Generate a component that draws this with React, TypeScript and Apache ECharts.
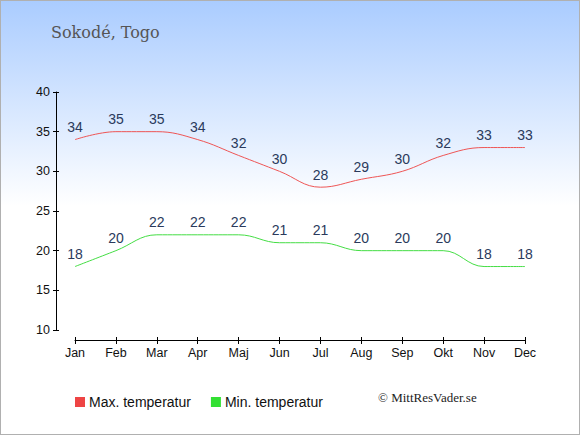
import React, { useEffect, useRef } from "react";
import * as echarts from "echarts";

const months = ["Jan", "Feb", "Mar", "Apr", "Maj", "Jun", "Jul", "Aug", "Sep", "Okt", "Nov", "Dec"];
const maxTemp = [34, 35, 35, 34, 32, 30, 28, 29, 30, 32, 33, 33];
const minTemp = [18, 20, 22, 22, 22, 21, 21, 20, 20, 20, 18, 18];
const seriesNames = ["Max. temperatur", "Min. temperatur"];
const title = "Sokodé, Togo";
const credit = "© MittResVader.se";

export default function App() {
  const ref = useRef<HTMLDivElement>(null);
  useEffect(() => {
    document.body.style.margin = "0";
    const chart = echarts.init(ref.current!, undefined, { renderer: "svg" });
    const sans = "Liberation Sans, Arial, sans-serif";
    const serif = "DejaVu Serif, Liberation Serif, serif";
    const labelStyle = { show: true, position: "top", distance: 5, color: "#2a3a5c", fontSize: 14, fontFamily: sans };
    const yBase = {
      type: "value",
      min: 10,
      max: 40,
      interval: 5,
      position: "left",
      offset: 19,
      splitLine: { show: false },
    };
    const xBase = {
      type: "category",
      data: months,
      boundaryGap: false,
      position: "bottom",
      offset: 10,
    };
    chart.setOption({
      animation: false,
      grid: { left: 74, right: 54, top: 91, bottom: 104 },
      xAxis: [
        {
          ...xBase,
          axisLine: { show: true, lineStyle: { color: "#000", width: 1 } },
          axisTick: { show: true, length: 4, inside: false, alignWithLabel: true, lineStyle: { color: "#000" } },
          axisLabel: { color: "#111", fontSize: 12.5, fontFamily: sans, margin: 6 },
        },
        {
          ...xBase,
          axisLine: { show: false },
          axisTick: { show: true, length: 3, inside: true, lineStyle: { color: "#000" } },
          axisLabel: { show: false },
        },
      ],
      yAxis: [
        {
          ...yBase,
          axisLine: { show: true, lineStyle: { color: "#000", width: 1 } },
          axisTick: { show: true, length: 3, inside: false, lineStyle: { color: "#000" } },
          axisLabel: { color: "#111", fontSize: 12.5, fontFamily: sans, margin: 6 },
        },
        {
          ...yBase,
          axisLine: { show: false },
          axisTick: { show: true, length: 3, inside: true, lineStyle: { color: "#000" } },
          axisLabel: { show: false },
        },
      ],
      legend: {
        left: 69,
        top: 389,
        itemWidth: 10,
        itemHeight: 10,
        itemGap: 20,
        icon: "rect",
        textStyle: { color: "#111", fontSize: 14, fontFamily: sans, padding: [0, 0, 0, -1] },
        data: [
          { name: seriesNames[0], itemStyle: { color: "#ee4444", opacity: 1 } },
          { name: seriesNames[1], itemStyle: { color: "#33e033", opacity: 1 } },
        ],
      },
      graphic: [
        {
          type: "text",
          left: 50,
          top: 23,
          style: { text: title, font: `16px ${serif}`, fill: "#555555" },
        },
        {
          type: "text",
          left: 377,
          top: 390,
          style: { text: credit, font: `13px Liberation Serif, serif`, fill: "#222222" },
        },
      ],
      series: [
        {
          name: seriesNames[0],
          type: "line",
          data: maxTemp,
          smooth: 0.4,
          symbol: "circle",
          symbolSize: 1,
          showSymbol: true,
          lineStyle: { color: "#ee5555", width: 1 },
          itemStyle: { color: "rgba(0,0,0,0)" },
          label: labelStyle,
        },
        {
          name: seriesNames[1],
          type: "line",
          data: minTemp,
          smooth: 0.4,
          symbol: "circle",
          symbolSize: 1,
          showSymbol: true,
          lineStyle: { color: "#44dd44", width: 1 },
          itemStyle: { color: "rgba(0,0,0,0)" },
          label: labelStyle,
        },
      ],
    });
    return () => chart.dispose();
  }, []);
  return (
    <div
      ref={ref}
      style={{
        width: 580,
        height: 435,
        boxSizing: "border-box",
        border: "1px solid #b0b0b0",
        background: "linear-gradient(to bottom, #aaccff 0px, #ffffff 205px, #ffffff 435px)",
      }}
    />
  );
}
